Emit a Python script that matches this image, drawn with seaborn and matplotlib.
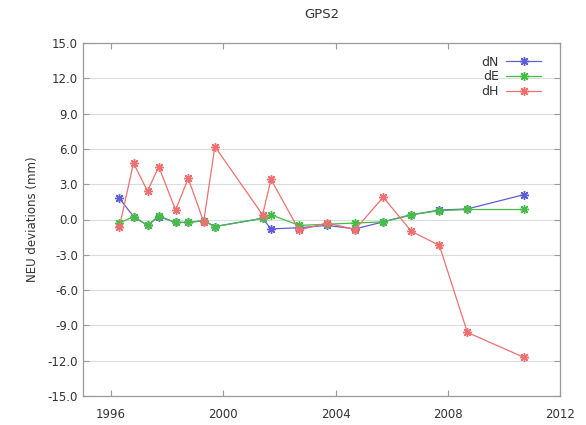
import matplotlib
matplotlib.use("Agg")
import matplotlib.pyplot as plt
import seaborn as sns
import pandas as pd

# Epochs of the GPS2 campaigns (decimal years)
years = [1996.3, 1996.8, 1997.3, 1997.7, 1998.3, 1998.75, 1999.3, 1999.7,
         2001.4, 2001.7, 2002.7, 2003.7, 2004.7, 2005.7, 2006.7, 2007.7,
         2008.7, 2010.7]

# North / East / Height deviations in mm
dN = [1.8, 0.25, -0.5, 0.25, -0.25, -0.25, -0.1, -0.6, 0.1, -0.8, -0.7,
      -0.5, -0.8, -0.2, 0.4, 0.8, 0.9, 2.1]
dE = [-0.3, 0.25, -0.5, 0.3, -0.25, -0.25, -0.1, -0.6, 0.1, 0.4, -0.5,
      -0.4, -0.3, -0.2, 0.4, 0.75, 0.85, 0.85]
dH = [-0.6, 4.8, 2.4, 4.5, 0.8, 3.5, -0.2, 6.2, 0.4, 3.4, -0.9, -0.3,
      -0.85, 1.9, -1.0, -2.2, -9.6, -11.7]

series_names = ["dN", "dE", "dH"]
series_colors = {"dN": "#5e5ed6", "dE": "#45bd45", "dH": "#f07070"}

x_ticks = [1996, 2000, 2004, 2008, 2012]
y_ticks = [-15, -12, -9, -6, -3, 0, 3, 6, 9, 12, 15]

df = pd.DataFrame({
    "year": years * 3,
    "value": dN + dE + dH,
    "component": [n for n in series_names for _ in years],
})

sns.set_theme(style="white")
plt.rcParams["font.family"] = ["DejaVu Sans"]

fig = plt.figure(figsize=(5.86, 4.25), dpi=100)
ax = fig.add_axes([83 / 586, 29 / 425, 477 / 586, 353 / 425])

star = (8, 2, 0)
for name in series_names:
    sns.lineplot(data=df[df["component"] == name], x="year", y="value",
                 color=series_colors[name], marker=star, markersize=6.5,
                 markeredgewidth=1.0, markeredgecolor=series_colors[name],
                 linewidth=0.9, label=name, ax=ax, estimator=None)

ax.set_xlim(1995, 2012)
ax.set_ylim(-15, 15)
ax.set_xticks(x_ticks)
ax.set_yticks(y_ticks)
ax.set_yticklabels([f"{v:.1f}" for v in y_ticks])
ax.set_xlabel("")
ax.set_ylabel("NEU deviations (mm)", fontsize=8.5, color="#333333", labelpad=6)
ax.set_title("GPS2", fontsize=9.5, color="#333333", pad=18)

ax.yaxis.grid(True, color="#dcdcdc", linewidth=0.8)
ax.xaxis.grid(False)
ax.set_axisbelow(True)

for sp in ax.spines.values():
    sp.set_color("#9a9a9a")
    sp.set_linewidth(0.9)

ax.tick_params(axis="both", direction="in", length=4, width=0.8,
               colors="#9a9a9a", labelcolor="#333333", labelsize=8.5,
               top=True, right=True, bottom=True, left=True)
ax.tick_params(axis="x", pad=9)

leg = ax.legend(loc="upper right", bbox_to_anchor=(0.987, 1.0),
                frameon=False, markerfirst=False,
                fontsize=9, handlelength=2.8, labelspacing=0.15,
                borderaxespad=0.6, handletextpad=0.6)
for t in leg.get_texts():
    t.set_color("#333333")

fig.savefig("out.png", dpi=100, facecolor="white")
